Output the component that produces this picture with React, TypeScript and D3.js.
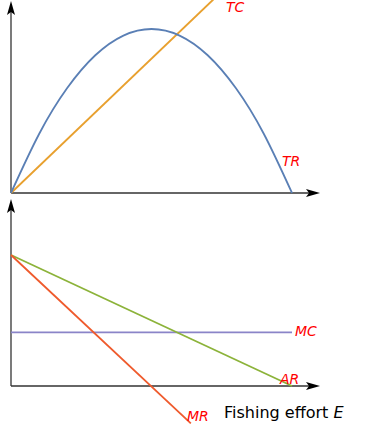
import React from 'react';
import * as d3 from 'd3';

// effort samples (0..100) and values
const effortTR = [0, 10, 20, 30, 40, 50, 60, 70, 80, 90, 100];
const valuesTR = [0, 36, 64, 84, 96, 100, 96, 84, 64, 36, 0];
const effortTC = [0, 72];
const valuesTC = [0, 118];

const effortAR = [0, 100];
const valuesAR = [4, 0];
const effortMR = [0, 64];
const valuesMR = [4, -1.14];
const effortMC = [0, 100];
const valuesMC = [1.64, 1.64];

const W = 370, H = 425;
const x = d3.scaleLinear().domain([0, 100]).range([11, 292]);
const yTop = d3.scaleLinear().domain([0, 100]).range([193, 29]);
const yBot = d3.scaleLinear().domain([0, 4]).range([386, 255]);

const pts = (xs: number[], ys: number[]) => xs.map((e, i) => [e, ys[i]] as [number, number]);

const axisCol = '#333';
const labelStyle = { fill: '#ff0000', fontStyle: 'italic', fontSize: 14, fontFamily: 'DejaVu Sans' };

const arrowRight = (tx: number, ty: number) =>
  `M${tx},${ty} L${tx - 14},${ty - 4} L${tx - 11},${ty} L${tx - 14},${ty + 4} Z`;
const arrowUp = (tx: number, ty: number) =>
  `M${tx},${ty} L${tx - 4},${ty + 14} L${tx},${ty + 11} L${tx + 4},${ty + 14} Z`;

const App = () => {
  const lineTop = d3.line<[number, number]>().x(d => x(d[0])).y(d => yTop(d[1]));
  const curveTop = d3.line<[number, number]>().x(d => x(d[0])).y(d => yTop(d[1])).curve(d3.curveNatural);
  const lineBot = d3.line<[number, number]>().x(d => x(d[0])).y(d => yBot(d[1]));

  return (
    <svg width={W} height={H} style={{ position: 'absolute', left: 0, top: 0 }}>
      <defs>
        <clipPath id="topclip"><rect x={0} y={0} width={W} height={194} /></clipPath>
      </defs>

      {/* top panel */}
      <line x1={11} y1={193} x2={11} y2={8} stroke={axisCol} strokeWidth={1.3} />
      <path d={arrowUp(11, 1)} fill="#000" />
      <line x1={11} y1={193} x2={312} y2={193} stroke={axisCol} strokeWidth={1.3} />
      <path d={arrowRight(320, 193)} fill="#000" />
      <g clipPath="url(#topclip)">
        <path d={lineTop(pts(effortTC, valuesTC)) ?? ''} fill="none" stroke="#e8a02e" strokeWidth={1.8} />
        <path d={curveTop(pts(effortTR, valuesTR)) ?? ''} fill="none" stroke="#5a7fb5" strokeWidth={1.8} />
      </g>
      <text x={226} y={12} style={labelStyle}>TC</text>
      <text x={282} y={166} style={labelStyle}>TR</text>

      {/* bottom panel */}
      <line x1={11} y1={386} x2={11} y2={206} stroke={axisCol} strokeWidth={1.3} />
      <path d={arrowUp(11, 199)} fill="#000" />
      <line x1={11} y1={386} x2={312} y2={386} stroke={axisCol} strokeWidth={1.3} />
      <path d={arrowRight(320, 386)} fill="#000" />
      <path d={lineBot(pts(effortMC, valuesMC)) ?? ''} fill="none" stroke="#8a84c8" strokeWidth={1.8} />
      <path d={lineBot(pts(effortAR, valuesAR)) ?? ''} fill="none" stroke="#8cb33a" strokeWidth={1.8} />
      <path d={lineBot(pts(effortMR, valuesMR)) ?? ''} fill="none" stroke="#ef5a2c" strokeWidth={1.8} />
      <text x={295} y={336} style={labelStyle}>MC</text>
      <text x={280} y={384} style={labelStyle}>AR</text>
      <text x={187} y={421} style={labelStyle}>MR</text>
      <text x={224} y={418} style={{ fontSize: 16, fontFamily: 'DejaVu Sans', fill: '#000' }}>
        Fishing effort <tspan fontStyle="italic">E</tspan>
      </text>
    </svg>
  );
};

export default App;
